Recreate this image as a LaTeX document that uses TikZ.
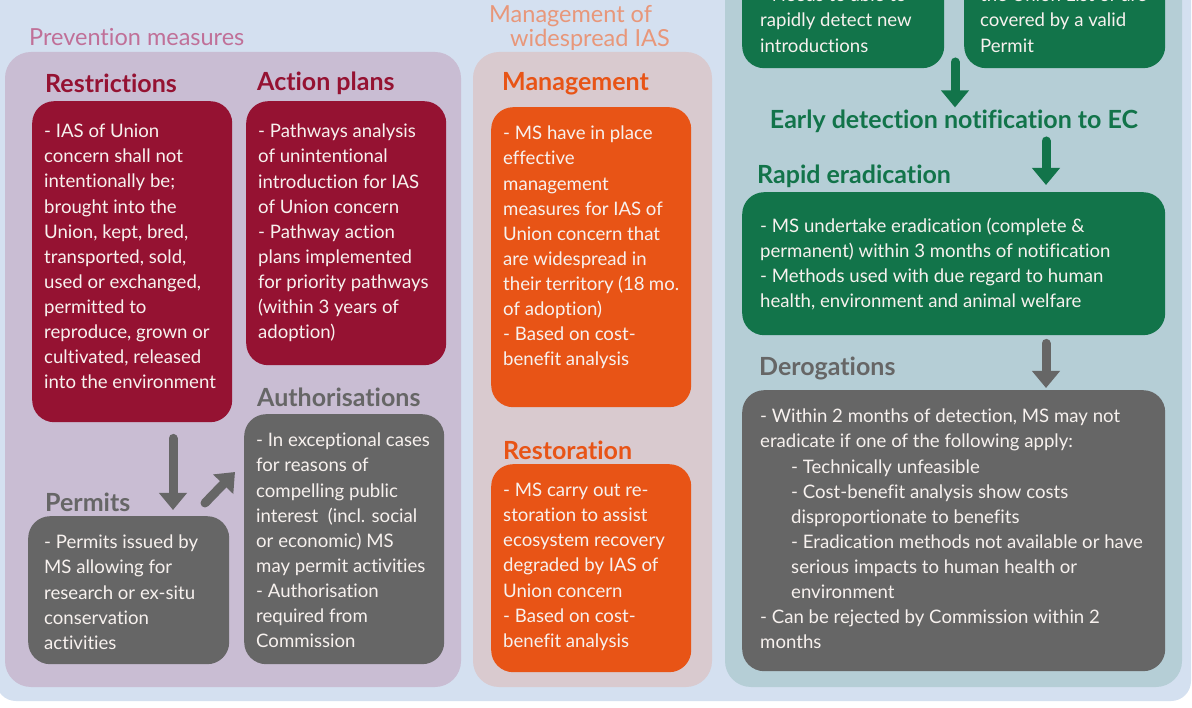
\documentclass[tikz,border=0pt]{standalone}
\usepackage{fontspec}
\setmainfont{Lato}[Ligatures=NoCommon]
\usetikzlibrary{arrows.meta, positioning}

\definecolor{pagebg}{HTML}{D4E0F0}
\definecolor{prevbg}{HTML}{C9BDD3}
\definecolor{mgmtbg}{HTML}{D9CACF}
\definecolor{edbg}{HTML}{B5CED6}
\definecolor{restred}{HTML}{951232}
\definecolor{cardgray}{HTML}{666666}
\definecolor{mgmtorange}{HTML}{E85416}
\definecolor{edgreen}{HTML}{12744A}
\definecolor{prevtitle}{HTML}{C07098}
\definecolor{mgmttitle}{HTML}{E8977A}
\definecolor{cardink}{HTML}{F7F1EE}

% text block inside a card: width, height, lines
\newcommand{\cardtext}[3]{\parbox[t][#2][t]{#1}{\raggedright #3}}

\tikzset{
  card/.style={rounded corners=22pt, anchor=north west, inner xsep=12pt, inner ysep=19pt,
    text=cardink, font=\fontsize{18.6}{25.1}\selectfont},
  head/.style={anchor=west, inner sep=0pt, font=\fontsize{25}{28}\selectfont\bfseries},
  bigarrow/.style={line width=9pt, line cap=round, -{Triangle[width=27pt,length=17pt]}},
}

\begin{document}
\begin{tikzpicture}[x=1pt, y=-1pt]
\useasboundingbox (0,0) rectangle (1192,708);
\fill[white] (0,0) rectangle (1192,708);
\fill[pagebg, rounded corners=20pt] (-4,-60) rectangle (1191,701);

% panels
\fill[prevbg, rounded corners=26pt] (5,52) rectangle (461,687);
\fill[mgmtbg, rounded corners=26pt] (473,52) rectangle (712,687);
\fill[edbg, rounded corners=26pt] (725,-60) rectangle (1182,687);

% panel titles
\node[anchor=west, inner sep=0pt, text=prevtitle, font=\fontsize{23.5}{26}\selectfont] (prevtitle) at (29,37) {Prevention measures};
\node[anchor=west, inner sep=0pt, align=left, text=mgmttitle, font=\fontsize{23.5}{24}\selectfont] (mgmttitle) at (489,28) {Management of\\\hspace*{21pt}widespread IAS};

% prevention measures
\node[head, text=restred] (restrhead) at (45,83) {Restrictions};
\node[card, fill=restred] (restr) at (32,101) {\cardtext{176pt}{283pt}{\vspace*{4pt}- IAS of Union\\
concern shall not\\
intentionally be;\\
brought into the\\
Union, kept, bred,\\
transported, sold,\\
used or exchanged,\\
permitted to\\
reproduce, grown or\\
cultivated, released\\
into the environment}};

\node[head, text=restred] (actionhead) at (257,83) {Action plans};
\node[card, fill=restred] (action) at (246,101) {\cardtext{176pt}{226pt}{\vspace*{4pt}- Pathways analysis\\
of unintentional\\
introduction for IAS\\
of Union concern\\
- Pathway action\\
plans implemented\\
for priority pathways\\
(within 3 years of\\
adoption)}};

\node[head, text=cardgray] (authhead) at (257,397) {Authorisations};
\node[card, fill=cardgray] (auth) at (244,414) {\cardtext{176pt}{212pt}{- In exceptional cases\\
for reasons of\\
compelling public\\
interest~ (incl. social\\
or economic) MS\\
may permit activities\\
- Authorisation\\
required from\\
Commission}};

\node[head, text=cardgray] (permhead) at (45,502) {Permits};
\node[card, fill=cardgray, inner xsep=16pt] (perm) at (28,516) {\cardtext{169pt}{110pt}{- Permits issued by\\
MS allowing for\\
research or ex-situ\\
conservation\\
activities}};

\coordinate (downx) at (173,0);
\draw[bigarrow, cardgray, shorten <=16pt, shorten >=6pt] (restr.south -| downx) -- (perm.north -| downx);
\coordinate (diagfrom) at (205,503);
\coordinate (diagto) at (235,472);
\draw[bigarrow, cardgray] (diagfrom) -- (diagto);

% management of widespread IAS
\node[head, text=mgmtorange] (mgmthead) at (502,84) {Management};
\node[card, fill=mgmtorange] (mgmt) at (491,107) {\cardtext{176pt}{262pt}{- MS have in place\\
effective\\
management\\
measures for IAS of\\
Union concern that\\
are widespread in\\
their territory (18 mo.\\
of adoption)\\
- Based on cost-\\
benefit analysis}};

\node[head, text=mgmtorange] (restohead) at (503,450) {Restoration};
\node[card, fill=mgmtorange] (resto) at (491,464) {\cardtext{176pt}{170pt}{- MS carry out re-\\
storation to assist\\
ecosystem recovery\\
degraded by IAS of\\
Union concern\\
- Based on cost-\\
benefit analysis}};

% early detection and rapid eradication
\node[card, fill=edgreen, inner xsep=18pt] (detect) at (742,-31) {\cardtext{166pt}{61pt}{- Needs to able to\\
rapidly detect new\\
introductions}};
\node[card, fill=edgreen, inner xsep=16pt] (permitcheck) at (964,-31) {\cardtext{169pt}{61pt}{the Union List or are\\
covered by a valid\\
Permit}};

\node[head, anchor=center, text=edgreen] (ednote) at (954,121) {Early detection notification to EC};
\coordinate (gapx) at (955,62);
\draw[bigarrow, edgreen, shorten >=2pt] (gapx) -- (gapx |- ednote.north);

\node[head, text=edgreen] (rapidhead) at (757,176) {Rapid eradication};
\node[card, fill=edgreen, inner xsep=18pt] (rapid) at (742,192) {\cardtext{387pt}{105pt}{\vspace*{7pt}- MS undertake eradication (complete \&\\
permanent) within 3 months of notification\\
- Methods used with due regard to human\\
health, environment and animal welfare}};

\coordinate (rightx) at (1046,141);
\draw[bigarrow, edgreen, shorten >=7pt] (rightx) -- (rightx |- rapid.north);

\node[head, text=cardgray] (deroghead) at (759,368) {Derogations};
\node[card, fill=cardgray, inner xsep=18pt] (derog) at (742,390) {\cardtext{387pt}{243pt}{- Within 2 months of detection, MS may not\\
eradicate if one of the following apply:\\
\hspace*{31pt}- Technically unfeasible\\
\hspace*{31pt}- Cost-benefit analysis show costs\\
\hspace*{31pt}disproportionate to benefits\\
\hspace*{31pt}- Eradication methods not available or have\\
\hspace*{31pt}serious impacts to human health or\\
\hspace*{31pt}environment\\
- Can be rejected by Commission within 2\\
months}};

\draw[bigarrow, cardgray, shorten <=8pt, shorten >=2pt] (rapid.south -| rightx) -- (derog.north -| rightx);
\end{tikzpicture}
\end{document}
